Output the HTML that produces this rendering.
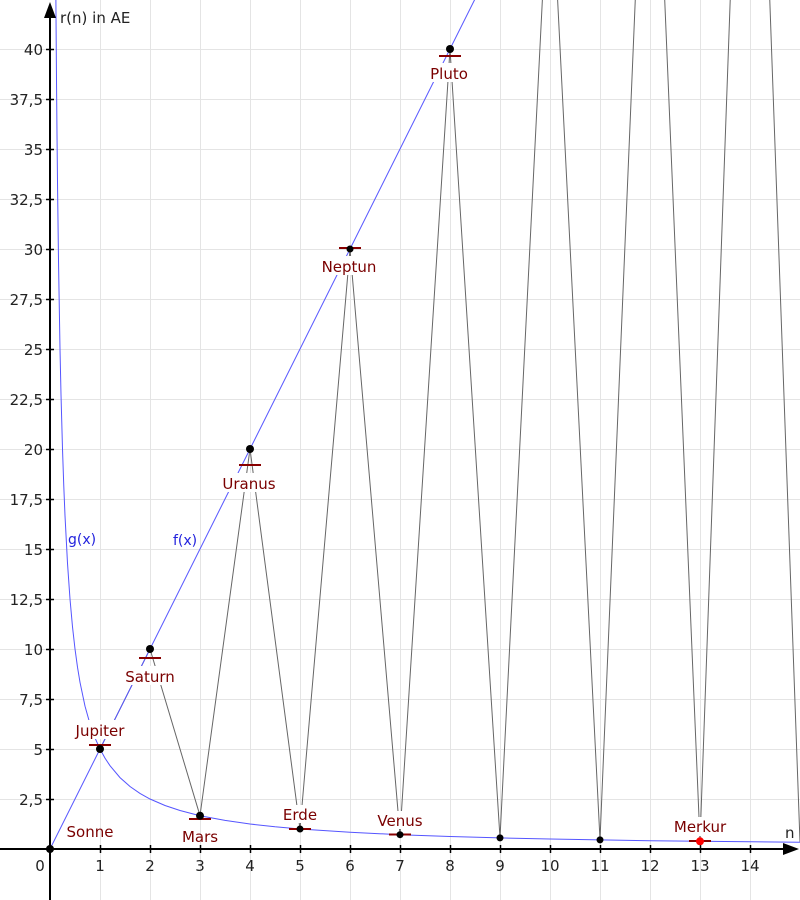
<!DOCTYPE html>
<html><head><meta charset="utf-8"><style>
html,body{margin:0;padding:0;background:#fff}
svg{display:block}
text{font-family:"DejaVu Sans","Liberation Sans",sans-serif}
</style></head><body>
<svg width="800" height="900" viewBox="0 0 800 900" xmlns="http://www.w3.org/2000/svg">
<g stroke="#e4e4e4" stroke-width="1">
<line x1="100.5" y1="0" x2="100.5" y2="900"/><line x1="150.5" y1="0" x2="150.5" y2="900"/><line x1="200.5" y1="0" x2="200.5" y2="900"/><line x1="250.5" y1="0" x2="250.5" y2="900"/><line x1="300.5" y1="0" x2="300.5" y2="900"/><line x1="350.5" y1="0" x2="350.5" y2="900"/><line x1="400.5" y1="0" x2="400.5" y2="900"/><line x1="450.5" y1="0" x2="450.5" y2="900"/><line x1="500.5" y1="0" x2="500.5" y2="900"/><line x1="550.5" y1="0" x2="550.5" y2="900"/><line x1="600.5" y1="0" x2="600.5" y2="900"/><line x1="650.5" y1="0" x2="650.5" y2="900"/><line x1="700.5" y1="0" x2="700.5" y2="900"/><line x1="750.5" y1="0" x2="750.5" y2="900"/>
<line x1="0" y1="49.5" x2="800" y2="49.5"/><line x1="0" y1="99.5" x2="800" y2="99.5"/><line x1="0" y1="149.5" x2="800" y2="149.5"/><line x1="0" y1="199.5" x2="800" y2="199.5"/><line x1="0" y1="249.5" x2="800" y2="249.5"/><line x1="0" y1="299.5" x2="800" y2="299.5"/><line x1="0" y1="349.5" x2="800" y2="349.5"/><line x1="0" y1="399.5" x2="800" y2="399.5"/><line x1="0" y1="449.5" x2="800" y2="449.5"/><line x1="0" y1="499.5" x2="800" y2="499.5"/><line x1="0" y1="549.5" x2="800" y2="549.5"/><line x1="0" y1="599.5" x2="800" y2="599.5"/><line x1="0" y1="649.5" x2="800" y2="649.5"/><line x1="0" y1="699.5" x2="800" y2="699.5"/><line x1="0" y1="749.5" x2="800" y2="749.5"/><line x1="0" y1="799.5" x2="800" y2="799.5"/>
</g>
<polyline fill="none" stroke="#666" stroke-width="1" points="100,749 150,649 200,815.7 250,449 300,829 350,249 400,834.7 450,49 500,837.9 550,-151 600,839.9 650,-351 700,841.3 750,-551 800,842.3"/>
<line x1="50" y1="849" x2="475" y2="-1" stroke="#5555ff" stroke-width="1"/>
<polyline fill="none" stroke="#5555ff" stroke-width="1" points="55.9,0 56,16 56.5,79.8 57,134.7 57.5,182.3 58.5,260.8 60,349 61,394.5 62.5,449 63.75,485.4 65,515.7 67.5,563.3 70,599 72.5,626.8 75,649 77.5,667.2 80,682.3 85,706.1 90,724 95,737.9 100,749 105,758.1 110,765.7 120,777.6 130,786.5 140,793.4 150,799 165,805.5 180,810.5 200,815.7 225,820.4 250,824 275,826.8 300,829 350,832.3 400,834.7 450,836.5 500,837.9 550,839 600,839.9 650,840.7 700,841.3 750,841.8 800,842.3"/>
<g stroke="#000" stroke-width="2">
<line x1="50" y1="900" x2="50" y2="10"/><line x1="0" y1="849" x2="790" y2="849"/>
</g>
<polygon points="50,2 44,18 56,18" fill="#000"/>
<polygon points="799,849 783,843 783,855" fill="#000"/>
<g stroke="#000" stroke-width="1.5">
<line x1="100.5" y1="845" x2="100.5" y2="853"/><line x1="150.5" y1="845" x2="150.5" y2="853"/><line x1="200.5" y1="845" x2="200.5" y2="853"/><line x1="250.5" y1="845" x2="250.5" y2="853"/><line x1="300.5" y1="845" x2="300.5" y2="853"/><line x1="350.5" y1="845" x2="350.5" y2="853"/><line x1="400.5" y1="845" x2="400.5" y2="853"/><line x1="450.5" y1="845" x2="450.5" y2="853"/><line x1="500.5" y1="845" x2="500.5" y2="853"/><line x1="550.5" y1="845" x2="550.5" y2="853"/><line x1="600.5" y1="845" x2="600.5" y2="853"/><line x1="650.5" y1="845" x2="650.5" y2="853"/><line x1="700.5" y1="845" x2="700.5" y2="853"/><line x1="750.5" y1="845" x2="750.5" y2="853"/>
<line x1="46" y1="49.5" x2="54" y2="49.5"/><line x1="46" y1="99.5" x2="54" y2="99.5"/><line x1="46" y1="149.5" x2="54" y2="149.5"/><line x1="46" y1="199.5" x2="54" y2="199.5"/><line x1="46" y1="249.5" x2="54" y2="249.5"/><line x1="46" y1="299.5" x2="54" y2="299.5"/><line x1="46" y1="349.5" x2="54" y2="349.5"/><line x1="46" y1="399.5" x2="54" y2="399.5"/><line x1="46" y1="449.5" x2="54" y2="449.5"/><line x1="46" y1="499.5" x2="54" y2="499.5"/><line x1="46" y1="549.5" x2="54" y2="549.5"/><line x1="46" y1="599.5" x2="54" y2="599.5"/><line x1="46" y1="649.5" x2="54" y2="649.5"/><line x1="46" y1="699.5" x2="54" y2="699.5"/><line x1="46" y1="749.5" x2="54" y2="749.5"/><line x1="46" y1="799.5" x2="54" y2="799.5"/>
</g>
<g font-size="15" fill="#222" text-anchor="middle">
<text x="100" y="871">1</text><text x="150" y="871">2</text><text x="200" y="871">3</text><text x="250" y="871">4</text><text x="300" y="871">5</text><text x="350" y="871">6</text><text x="400" y="871">7</text><text x="450" y="871">8</text><text x="500" y="871">9</text><text x="550" y="871">10</text><text x="600" y="871">11</text><text x="650" y="871">12</text><text x="700" y="871">13</text><text x="750" y="871">14</text>
<text x="40" y="871">0</text>
</g>
<g font-size="15" fill="#222" text-anchor="end">
<text x="43" y="55">40</text><text x="43" y="105">37,5</text><text x="43" y="155">35</text><text x="43" y="205">32,5</text><text x="43" y="255">30</text><text x="43" y="305">27,5</text><text x="43" y="355">25</text><text x="43" y="405">22,5</text><text x="43" y="455">20</text><text x="43" y="505">17,5</text><text x="43" y="555">15</text><text x="43" y="605">12,5</text><text x="43" y="655">10</text><text x="43" y="705">7,5</text><text x="43" y="755">5</text><text x="43" y="805">2,5</text>
</g>
<text x="60" y="23" font-size="15" fill="#222">r(n) in AE</text>
<text x="785" y="838" font-size="15" fill="#222">n</text>
<text x="68" y="544" font-size="14" fill="#2222dd">g(x)</text>
<text x="173" y="545" font-size="14" fill="#2222dd">f(x)</text>
<g stroke="#880000" stroke-width="2">
<line x1="89" y1="745" x2="111" y2="745"/><line x1="139" y1="658" x2="161" y2="658"/><line x1="189" y1="819" x2="211" y2="819"/><line x1="239" y1="465" x2="261" y2="465"/><line x1="289" y1="829" x2="311" y2="829"/><line x1="339" y1="248" x2="361" y2="248"/><line x1="389" y1="834.5" x2="411" y2="834.5"/><line x1="439" y1="56" x2="461" y2="56"/><line x1="689" y1="841" x2="711" y2="841"/>
</g>
<g fill="#fff">
<rect x="71" y="720" width="58" height="19"/><rect x="123" y="666" width="54" height="19"/><rect x="220" y="473" width="58" height="19"/><rect x="320" y="256" width="58" height="19"/><rect x="428" y="63" width="44" height="19"/><rect x="672" y="817" width="56" height="19"/><rect x="372" y="811" width="56" height="18"/><rect x="280" y="805" width="40" height="18"/>
</g>
<g font-size="15" fill="#7a0000" text-anchor="middle">
<text x="100" y="736">Jupiter</text><text x="150" y="682">Saturn</text><text x="200" y="842">Mars</text><text x="249" y="489">Uranus</text><text x="349" y="272">Neptun</text><text x="449" y="79">Pluto</text><text x="300" y="820">Erde</text><text x="400" y="826">Venus</text><text x="700" y="832">Merkur</text><text x="90" y="837">Sonne</text>
</g>
<g fill="#000">
<circle cx="50" cy="849" r="4"/><circle cx="100" cy="749" r="4"/><circle cx="150" cy="649" r="4"/><circle cx="200" cy="815.7" r="4"/><circle cx="250" cy="449" r="4"/><circle cx="300" cy="829" r="3.5"/><circle cx="350" cy="249" r="3.5"/><circle cx="400" cy="834.7" r="3.5"/><circle cx="450" cy="49" r="4"/><circle cx="500" cy="837.9" r="3.5"/><circle cx="600" cy="839.9" r="3.5"/>
</g>
<circle cx="700" cy="841.3" r="4" fill="#ff0000"/>
</svg>
</body></html>
